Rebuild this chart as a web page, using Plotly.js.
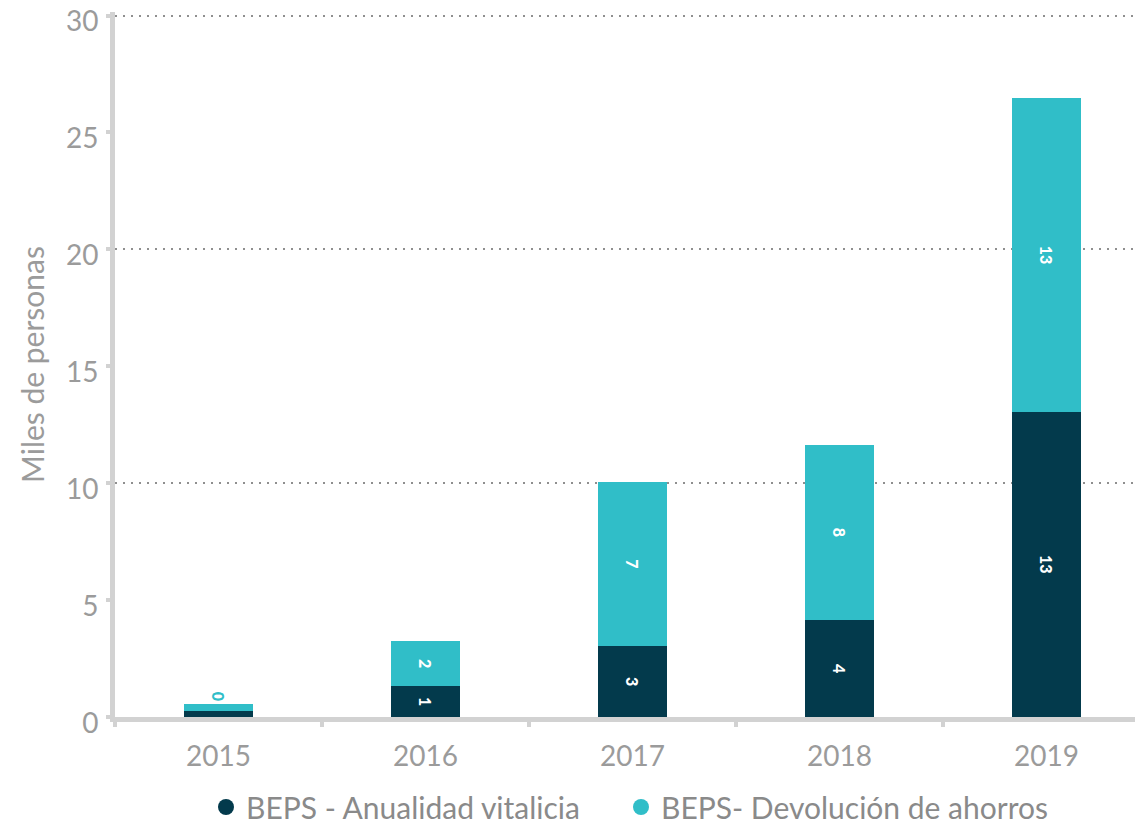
<!DOCTYPE html>
<html>
<head>
<meta charset="utf-8">
<script src="https://cdn.plot.ly/plotly-3.0.1.min.js"></script>
<style>
html,body{margin:0;padding:0;background:#fff;}
#chart{width:1135px;height:833px;}
</style>
</head>
<body>
<div id="chart"></div>
<script>
const years = ['2015', '2016', '2017', '2018', '2019'];
const anualidad = [0.25, 1.32, 3.03, 4.14, 13.06];
const devolucion = [0.3, 1.92, 7.04, 7.5, 13.4];
const anualidadLabels = ['', '1', '3', '4', '13'];
const devolucionLabels = ['0', '2', '7', '8', '13'];
const seriesNames = ['BEPS - Anualidad vitalicia', 'BEPS- Devolución de ahorros'];
const yTicks = [0, 5, 10, 15, 20, 25, 30];
const gridVals = [10, 20, 30];

const darkColor = '#033a4c';
const tealColor = '#30bec8';
const grey = '#9b9b9b';
const fontFam = 'Lato, "Open Sans", sans-serif';
const labelFont = {color: '#ffffff', size: 16, family: 'Lato, sans-serif', weight: 900};
const legendFont = {size: 30, color: '#8a8a8a', family: fontFam};

const traces = [
  {
    type: 'bar', x: years, y: anualidad, name: seriesNames[0],
    marker: {color: darkColor}, showlegend: false,
    text: anualidadLabels, textposition: 'inside', insidetextanchor: 'middle',
    textangle: 90, constraintext: 'none',
    textfont: labelFont,
    hoverinfo: 'x+y'
  },
  {
    type: 'bar', x: years, y: devolucion, name: seriesNames[1],
    marker: {color: tealColor}, showlegend: false,
    text: devolucionLabels,
    textposition: ['outside', 'inside', 'inside', 'inside', 'inside'],
    insidetextanchor: 'middle', textangle: 90, constraintext: 'none', cliponaxis: false,
    textfont: labelFont,
    outsidetextfont: Object.assign({}, labelFont, {color: tealColor}),
    hoverinfo: 'x+y'
  },
  {
    type: 'scatter', mode: 'markers', x: [null], y: [null], name: seriesNames[0],
    marker: {color: darkColor, size: 18, symbol: 'circle'}, showlegend: true, legend: 'legend'
  },
  {
    type: 'scatter', mode: 'markers', x: [null], y: [null], name: seriesNames[1],
    marker: {color: tealColor, size: 18, symbol: 'circle'}, showlegend: true, legend: 'legend2'
  },
  {
    type: 'scatter', mode: 'markers', x: [null], y: [null], yaxis: 'y2',
    showlegend: false, hoverinfo: 'skip'
  }
];

const layout = {
  width: 1135, height: 833,
  margin: {l: 115, r: 0, t: 12, b: 116},
  paper_bgcolor: '#ffffff', plot_bgcolor: '#ffffff',
  barmode: 'stack', bargap: 0.67,
  font: {family: fontFam, color: grey},
  showlegend: true,
  legend: {
    orientation: 'h',
    x: 206 / 1135, xref: 'container', xanchor: 'left',
    y: 0, yref: 'container', yanchor: 'bottom',
    font: legendFont, itemsizing: 'trace', itemwidth: 30
  },
  legend2: {
    orientation: 'h',
    x: 621 / 1135, xref: 'container', xanchor: 'left',
    y: 0, yref: 'container', yanchor: 'bottom',
    font: legendFont, itemsizing: 'trace', itemwidth: 30
  },
  xaxis: {
    type: 'category', range: [-0.5, 4.427],
    showline: true, linecolor: '#d2d2d2', linewidth: 5,
    ticks: 'outside', tickson: 'boundaries', ticklen: 5, tickwidth: 4, tickcolor: '#d2d2d2',
    tickfont: {size: 28, color: grey, family: fontFam},
    ticklabelstandoff: 10,
    showgrid: false, zeroline: false, fixedrange: true
  },
  yaxis: {
    range: [0, 30.15], tickvals: yTicks, ticktext: yTicks.map(String),
    showline: true, linecolor: '#d2d2d2', linewidth: 5,
    ticks: 'outside', ticklen: 4, tickwidth: 4, tickcolor: '#d2d2d2',
    tickfont: {size: 28, color: grey, family: fontFam},
    ticklabelstandoff: 2, ticklabelshift: 6, ticklabeloverflow: 'allow',
    showgrid: false, zeroline: false, fixedrange: true,
    title: {text: 'Miles de personas', font: {size: 30, color: grey, family: fontFam}, standoff: 14}
  },
  yaxis2: {
    overlaying: 'y', range: [0, 30.15], tickvals: gridVals,
    showgrid: true, gridcolor: '#8f8f8f', gridwidth: 2, griddash: '2px,6px',
    showticklabels: false, ticks: '', showline: false, zeroline: false, fixedrange: true
  }
};

Plotly.newPlot('chart', traces, layout, {displayModeBar: false, staticPlot: true});
</script>
</body>
</html>
